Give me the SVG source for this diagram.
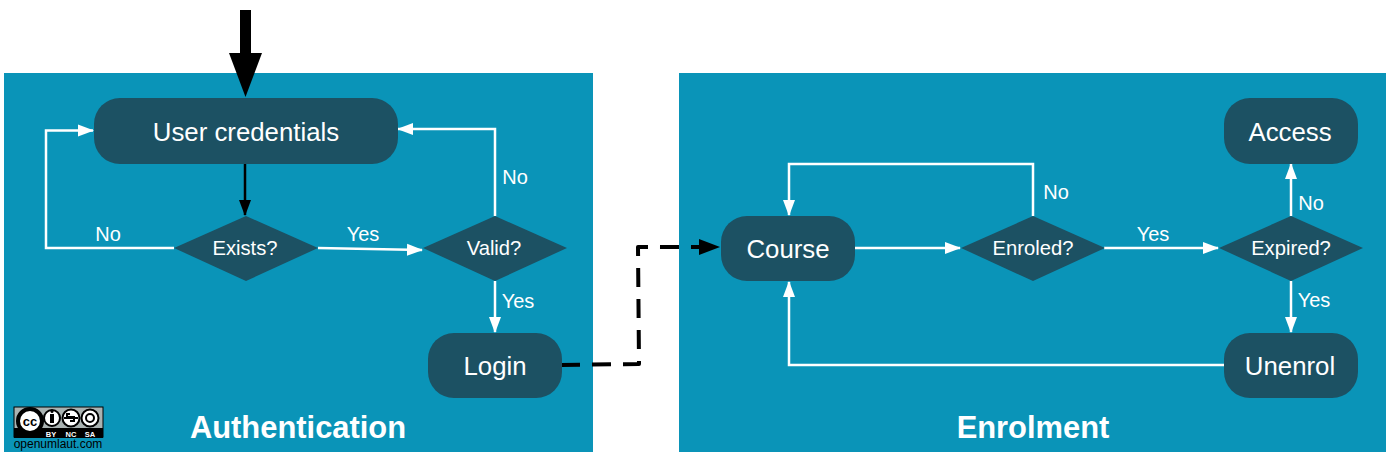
<svg xmlns="http://www.w3.org/2000/svg" width="1390" height="455" viewBox="0 0 1390 455">
<style>
.panel{fill:#0a94b8}
.box{fill:#1c5163}
.t{font-family:"Liberation Sans",Arial,sans-serif;fill:#fff;text-anchor:middle}
.n{font-size:25.800px}
.d{font-size:20.200px}
.l{font-size:20px}
.h{font-size:30.900px;font-weight:bold}
.w{fill:none;stroke:#fff;stroke-width:2.500}
.k{fill:none;stroke:#000;stroke-width:2.500}
.cc{font-family:"Liberation Sans",Arial,sans-serif;text-anchor:middle}
</style>
<defs>
<marker id="wa" markerUnits="userSpaceOnUse" markerWidth="17" markerHeight="14" refX="15" refY="7" orient="auto"><path d="M0 1L16 7L0 13Z" fill="#fff"/></marker>
<marker id="ka" markerUnits="userSpaceOnUse" markerWidth="17" markerHeight="14" refX="15" refY="7" orient="auto"><path d="M0 1L16 7L0 13Z" fill="#000"/></marker>
</defs>
<rect width="1390" height="455" fill="#fff"/>
<g id="panel-authentication"><rect class="panel" x="4" y="73" width="589" height="379"/><text class="t h" x="298" y="438">Authentication</text></g>
<g id="panel-enrolment"><rect class="panel" x="679" y="73" width="707" height="379"/><text class="t h" x="1033" y="438">Enrolment</text></g>
<g id="connectors">
<path d="M245.500 10V54" stroke="#000" stroke-width="11" fill="none"/>
<path d="M229 53H262L245.500 97Z" fill="#000"/>
<path class="k" d="M245 164V215" marker-end="url(#ka)"/>
<path class="w" d="M174 248H46V130.500H93" marker-end="url(#wa)"/>
<path class="w" d="M318 248L422 250" marker-end="url(#wa)"/>
<path class="w" d="M495 216V129H398" marker-end="url(#wa)"/>
<path class="w" d="M495 281V332" marker-end="url(#wa)"/>
<path d="M561 365L639 364L638 247H720" fill="none" stroke="#000" stroke-width="4" stroke-dasharray="19 12" stroke-linejoin="round"/>
<path d="M699 239L720 247L699 255Z" fill="#000"/>
<path class="w" d="M855 248H960" marker-end="url(#wa)"/>
<path class="w" d="M1033 216V164H789V215" marker-end="url(#wa)"/>
<path class="w" d="M1104 248H1218" marker-end="url(#wa)"/>
<path class="w" d="M1291 216V164" marker-end="url(#wa)"/>
<path class="w" d="M1291 281V332" marker-end="url(#wa)"/>
<path class="w" d="M1225 365H789V282" marker-end="url(#wa)"/>
</g>
<g id="node-user-credentials"><rect class="box" x="94" y="98" width="304" height="66" rx="26"/><text class="t n" x="246" y="141">User credentials</text></g>
<g id="node-exists"><path class="box" d="M174 248L246 216L318 248L246 281Z"/><text class="t d" x="245" y="255">Exists?</text></g>
<g id="node-valid"><path class="box" d="M423 248L495 216L567 248L495 281Z"/><text class="t d" x="494" y="255">Valid?</text></g>
<g id="node-login"><rect class="box" x="428" y="333" width="134" height="65" rx="26"/><text class="t n" x="495" y="375">Login</text></g>
<g id="node-course"><rect class="box" x="721" y="216" width="134" height="65" rx="26"/><text class="t n" x="788" y="258">Course</text></g>
<g id="node-enroled"><path class="box" d="M961 248L1033 216L1105 248L1033 281Z"/><text class="t d" x="1033" y="255">Enroled?</text></g>
<g id="node-expired"><path class="box" d="M1219 248L1291 216L1363 248L1291 281Z"/><text class="t d" x="1291" y="255">Expired?</text></g>
<g id="node-access"><rect class="box" x="1224" y="98" width="134" height="66" rx="26"/><text class="t n" x="1290" y="141">Access</text></g>
<g id="node-unenrol"><rect class="box" x="1224" y="333" width="134" height="65" rx="26"/><text class="t n" x="1290" y="375">Unenrol</text></g>
<g id="labels">
<text class="t l" x="108" y="241">No</text>
<text class="t l" x="363" y="241">Yes</text>
<text class="t l" x="515" y="184">No</text>
<text class="t l" x="518" y="308">Yes</text>
<text class="t l" x="1056" y="199">No</text>
<text class="t l" x="1153" y="241">Yes</text>
<text class="t l" x="1311" y="210">No</text>
<text class="t l" x="1314" y="307">Yes</text>
</g>
<g id="license">
<rect x="14" y="407" width="89" height="30" fill="#a9b2b1" stroke="#000" stroke-width="1"/>
<rect x="14" y="428" width="89" height="10" fill="#000"/>
<circle cx="30" cy="421" r="12" fill="#fff" stroke="#000" stroke-width="4"/>
<circle cx="52" cy="418" r="8" fill="#fff" stroke="#000" stroke-width="2"/>
<circle cx="71" cy="418" r="8.500" fill="#fff" stroke="#000" stroke-width="2"/>
<circle cx="90" cy="418" r="8.500" fill="#fff" stroke="#000" stroke-width="2"/>
<path d="M50 414h4v9h-4z" fill="#000"/><circle cx="52" cy="411.500" r="1.500" fill="#000"/>
<path d="M64 418H78M70 414H67V417H74V421H70" fill="none" stroke="#000" stroke-width="2"/>
<circle cx="90" cy="418" r="4" fill="none" stroke="#000" stroke-width="2"/>
<text class="cc" x="30" y="426" font-size="13" font-weight="bold" fill="#000">cc</text>
<text class="cc" x="51" y="437" font-size="7.500" font-weight="bold" fill="#fff">BY</text>
<text class="cc" x="71" y="437" font-size="7.500" font-weight="bold" fill="#fff">NC</text>
<text class="cc" x="90" y="437" font-size="7.500" font-weight="bold" fill="#fff">SA</text>
<text class="cc" x="58" y="448" font-size="12" fill="#000">openumlaut.com</text>
</g>
</svg>
